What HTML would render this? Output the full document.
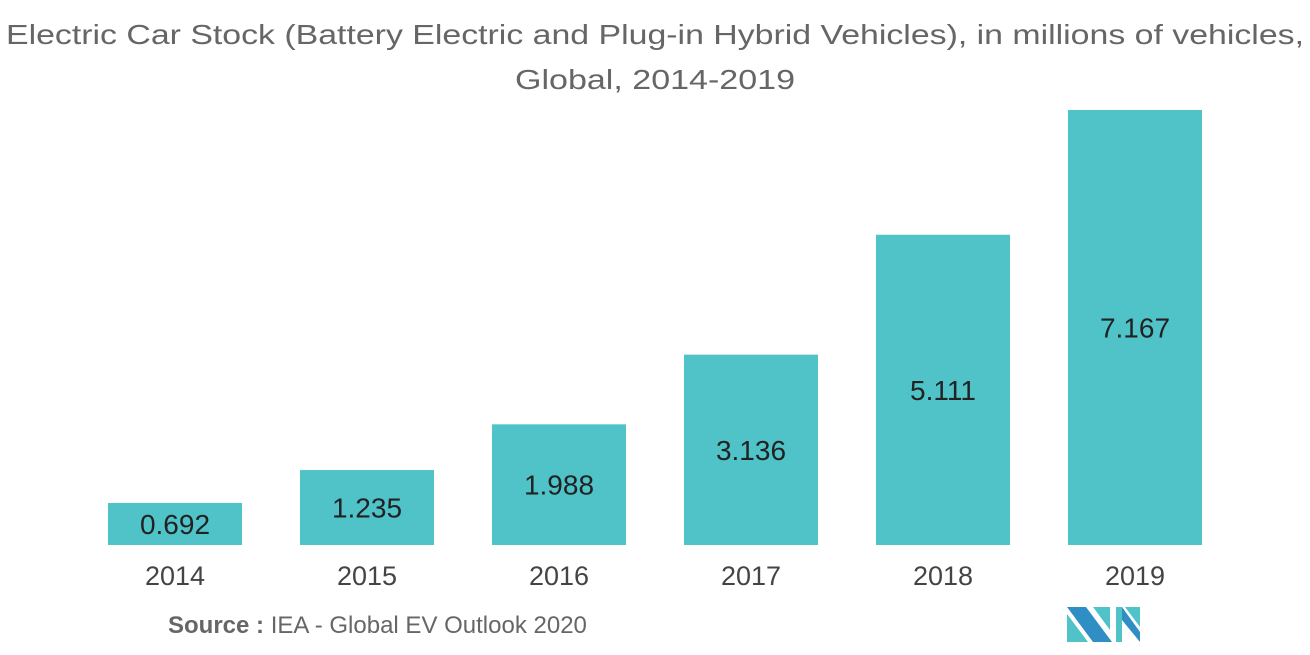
<!DOCTYPE html>
<html><head><meta charset="utf-8"><style>
html,body{margin:0;padding:0;background:#fff;}
svg{display:block;font-family:"Liberation Sans",sans-serif;}
</style></head><body>
<svg id="chart" width="1310" height="655" viewBox="0 0 1310 655">
<text x="655" y="44" text-anchor="middle" font-size="28" fill="#666" textLength="1298" lengthAdjust="spacingAndGlyphs">Electric Car Stock (Battery Electric and Plug-in Hybrid Vehicles), in millions of vehicles,</text>
<text x="655" y="89" text-anchor="middle" font-size="28" fill="#666" textLength="280" lengthAdjust="spacingAndGlyphs">Global, 2014-2019</text>
<g id="bars"></g>
<text x="168" y="633" font-size="24" fill="#666"><tspan font-weight="bold">Source :</tspan> IEA - Global EV Outlook 2020</text>
<g>
<polygon points="1067,607 1086,607 1112,642 1093,642" fill="#2f8fc4"/>
<polygon points="1067,614 1088,642 1067,642" fill="#4fc3c8"/>
<polygon points="1093,607 1110,607 1110,630" fill="#4fc3c8"/>
<polygon points="1116,607 1122,607 1122,642 1116,642" fill="#4fc3c8"/>
<polygon points="1122,607 1140,632 1140,642 1122,620" fill="#2f8fc4"/>
<polygon points="1125,607 1140,607 1140,627" fill="#4fc3c8"/>
</g>
</svg>
<script>
const categories = ["2014","2015","2016","2017","2018","2019"];
const values = [0.692,1.235,1.988,3.136,5.111,7.167];
const labels = ["0.692","1.235","1.988","3.136","5.111","7.167"];
const baseY = 545, pxPerUnit = 60.7, firstX = 108, step = 192, barW = 134;
function xPos(i){return firstX + i*step;}
function yPos(v){return baseY - v*pxPerUnit;}
const g = document.getElementById('bars');
const NS = "http://www.w3.org/2000/svg";
categories.forEach((c,i)=>{
  const r = document.createElementNS(NS,'rect');
  r.setAttribute('x', xPos(i)); r.setAttribute('y', yPos(values[i]));
  r.setAttribute('width', barW); r.setAttribute('height', baseY - yPos(values[i]));
  r.setAttribute('fill', '#4fc3c8');
  
  
  g.appendChild(r);
  const t = document.createElementNS(NS,'text');
  t.setAttribute('x', xPos(i)+barW/2); t.setAttribute('y', (yPos(values[i])+baseY)/2 + 10);
  t.setAttribute('text-anchor','middle'); t.setAttribute('font-size','28'); t.setAttribute('fill','#222');
  t.textContent = labels[i];
  
  
  g.appendChild(t);
  const x = document.createElementNS(NS,'text');
  x.setAttribute('x', xPos(i)+barW/2); x.setAttribute('y', 585);
  x.setAttribute('text-anchor','middle'); x.setAttribute('font-size','27'); x.setAttribute('fill','#444');
  x.textContent = c;
  
  
  g.appendChild(x);
});
</script>
</body></html>
